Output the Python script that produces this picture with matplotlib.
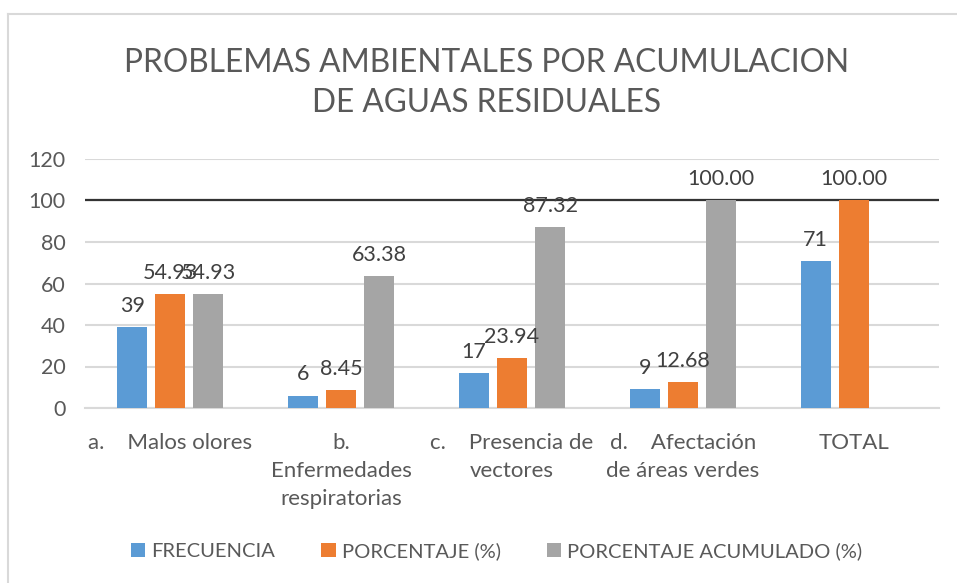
import matplotlib
matplotlib.use("Agg")
import matplotlib.pyplot as plt
import numpy as np
from matplotlib.lines import Line2D

plt.rcParams['font.family'] = ['Lato', 'DejaVu Sans']

categories = ["a.    Malos olores", "b.\nEnfermedades\nrespiratorias",
              "c.    Presencia de\nvectores", "d.    Afectación\nde áreas verdes", "TOTAL"]
frecuencia = [39, 6, 17, 9, 71]
porcentaje = [54.93, 8.45, 23.94, 12.68, 100.00]
acumulado = [54.93, 63.38, 87.32, 100.00, np.nan]
series_names = ["FRECUENCIA", "PORCENTAJE (%)", "PORCENTAJE ACUMULADO (%)"]
colors = ["#5B9BD5", "#ED7D31", "#A5A5A5"]
yticks = [0, 20, 40, 60, 80, 100, 120]
ref_line = 100
title = "PROBLEMAS AMBIENTALES POR ACUMULACION\nDE AGUAS RESIDUALES"

W, H = 957, 583
fig = plt.figure(figsize=(W / 100, H / 100), dpi=100)
fig.patch.set_facecolor("white")

# outer chart border (top & left visible)
fig.add_artist(Line2D([8 / W, 1], [1 - 14 / H, 1 - 14 / H], color="#D9D9D9", lw=1.5, transform=fig.transFigure))
fig.add_artist(Line2D([8 / W, 8 / W], [0, 1 - 14 / H], color="#D9D9D9", lw=1.5, transform=fig.transFigure))

left, right, top, bottom = 85, 939, 159, 408
ax = fig.add_axes([left / W, 1 - bottom / H, (right - left) / W, (bottom - top) / H])

x = np.arange(len(categories))
bw = 0.176
step = 0.2225
series = [frecuencia, porcentaje, acumulado]
for i, (vals, c, name) in enumerate(zip(series, colors, series_names)):
    pos = x + (i - 1) * step
    ax.bar(pos, vals, width=bw, color=c, label=name, zorder=3)
    for p, v in zip(pos, vals):
        if np.isnan(v):
            continue
        lab = f"{v:.0f}" if i == 0 else f"{v:.2f}"
        ax.annotate(lab, (p, v), xytext=(0, 8), textcoords="offset points",
                    ha="center", va="bottom", fontsize=15.5, color="#404040", zorder=4)

ax.set_xlim(-0.5, len(categories) - 0.5)
ax.set_ylim(0, 120)
ax.set_yticks(yticks)
ax.yaxis.grid(True, color="#D9D9D9", lw=1.5, zorder=0)
ax.axhline(ref_line, color="#333333", lw=1.6, zorder=2)
for s in ["top", "right", "left"]:
    ax.spines[s].set_visible(False)
ax.spines["bottom"].set_color("#D9D9D9")
ax.spines["bottom"].set_linewidth(1.5)
ax.tick_params(axis="both", length=0, labelsize=15.5, labelcolor="#595959")
ax.tick_params(axis="y", pad=14)
ax.tick_params(axis="x", pad=18)
ax.set_xticks(x)
ax.set_xticklabels(categories, linespacing=1.5, fontsize=16)

fig.text(487 / W, 1 - 83 / H, title, ha="center", va="center", fontsize=22.8,
         color="#595959", linespacing=1.4)

fig.legend(loc="center", bbox_to_anchor=(0.519, 1 - 551 / H), ncol=3, frameon=False,
           fontsize=14.5, handlelength=0.7, handleheight=0.7, handletextpad=0.3,
           columnspacing=2.3, labelcolor="#595959")

fig.savefig("out.png", dpi=100)
